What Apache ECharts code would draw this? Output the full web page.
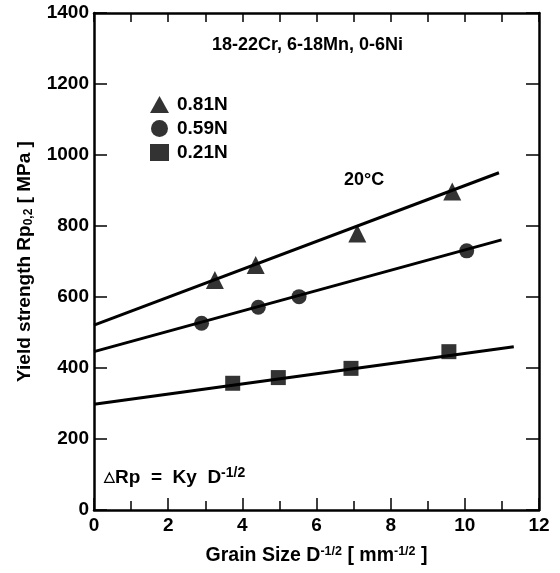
<!DOCTYPE html>
<html>
<head>
<meta charset="utf-8">
<script src="https://cdn.jsdelivr.net/npm/echarts@6/dist/echarts.min.js"></script>
<style>
  html, body { margin: 0; padding: 0; background: #fff; }
  #main { width: 560px; height: 573px; }
</style>
</head>
<body>
<div id="main"></div>
<script>
// measured points (grain size, yield strength)
var n081 = [[3.26, 648], [4.36, 690], [7.10, 779], [9.66, 897]];
var n059 = [[2.90, 526], [4.43, 571], [5.53, 601], [10.05, 730]];
var n021 = [[3.74, 357], [4.97, 373], [6.93, 399], [9.57, 446]];
// fitted lines
var fit081 = [[0, 521], [10.92, 950]];
var fit059 = [[0, 446], [10.99, 761]];
var fit021 = [[0, 298], [11.32, 460]];

var xTicks = [0, 2, 4, 6, 8, 10, 12];
var yTicks = [0, 200, 400, 600, 800, 1000, 1200, 1400];

var myChart = echarts.init(document.getElementById('main'));
var fnt = 'Liberation Sans, Arial, sans-serif';

function fitLine(data) {
  return {
    type: 'line', data: data, symbol: 'none', silent: true,
    lineStyle: { color: '#000', width: 3 }, z: 2
  };
}
function pts(name, data, sym, size) {
  return {
    name: name, type: 'scatter', data: data, symbol: sym, symbolSize: size,
    itemStyle: { color: '#000' }, z: 3
  };
}
var axLine = { show: true, onZero: false, lineStyle: { color: '#000', width: 2.5 } };

option = {
  animation: false,
  textStyle: { fontFamily: fnt },
  grid: { left: 94, right: 21, top: 13, bottom: 63 },
  legend: {
    left: 145, top: 90, orient: 'vertical', itemGap: 5,
    itemWidth: 19, itemHeight: 17,
    textStyle: { fontFamily: fnt, fontSize: 19, fontWeight: 'bold', color: '#000', padding: [0, 0, 0, 3] },
    data: [
      { name: '0.81N', icon: 'triangle' },
      { name: '0.59N', icon: 'circle' },
      { name: '0.21N', icon: 'rect' }
    ]
  },
  xAxis: [{
    type: 'value', min: 0, max: 12, interval: 2,
    axisLine: axLine,
    axisTick: { inside: true, length: 12, lineStyle: { color: '#000', width: 1.5 } },
    minorTick: { show: true, splitNumber: 2, length: 9, lineStyle: { color: '#000', width: 1.5 } },
    splitLine: { show: false },
    axisLabel: { margin: 6, color: '#000', fontSize: 19, fontWeight: 'bold', fontFamily: fnt,
      formatter: function (v) { return xTicks.indexOf(v) >= 0 ? String(v) : ''; } },
    name: '{b|Grain Size D}{s|-1/2}{b| [ mm}{s|-1/2}{b| ]}',
    nameLocation: 'middle', nameGap: 35,
    nameTextStyle: { rich: {
      b: { fontSize: 19.5, fontWeight: 'bold', color: '#000', fontFamily: fnt },
      s: { fontSize: 12.5, fontWeight: 'bold', color: '#000', fontFamily: fnt, verticalAlign: 'top', padding: [0, 0, 9, 0] }
    } }
  }, {
    type: 'value', position: 'top', min: 0, max: 12, interval: 1,
    axisLine: axLine,
    axisTick: { inside: true, length: 9, lineStyle: { color: '#000', width: 1.5 } },
    axisLabel: { show: false }, splitLine: { show: false }
  }],
  yAxis: [{
    type: 'value', min: 0, max: 1400, interval: 200,
    axisLine: axLine,
    axisTick: { inside: true, length: 13, lineStyle: { color: '#000', width: 1.5 } },
    splitLine: { show: false },
    axisLabel: { margin: 5, color: '#000', fontSize: 19, fontWeight: 'bold', fontFamily: fnt,
      formatter: function (v) { return yTicks.indexOf(v) >= 0 ? String(v) : ''; } },
    name: '{b|Yield strength Rp}{s|0,2}{b| [ MPa ]}',
    nameLocation: 'middle', nameGap: 59, nameRotate: 90,
    nameTextStyle: { rich: {
      b: { fontSize: 19, fontWeight: 'bold', color: '#000', fontFamily: fnt },
      s: { fontSize: 12, fontWeight: 'bold', color: '#000', fontFamily: fnt, verticalAlign: 'bottom', padding: [8, 0, 0, 0] }
    } }
  }, {
    type: 'value', position: 'right', min: 0, max: 1400, interval: 200,
    axisLine: axLine,
    axisTick: { show: true, inside: true, length: 13, lineStyle: { color: '#000', width: 1.5 } },
    axisLabel: { show: false }, splitLine: { show: false }
  }],
  graphic: [
    { type: 'text', left: 212, top: 36, style: { text: '18-22Cr, 6-18Mn, 0-6Ni', font: 'bold 18px ' + fnt, fill: '#000' } },
    { type: 'text', left: 344, top: 171, style: { text: '20°C', font: 'bold 18px ' + fnt, fill: '#000' } },
    { type: 'text', left: 104, top: 466, style: {
      text: '{t|△}{b|Rp  =  Ky  D}{s|-1/2}',
      rich: {
        t: { fontSize: 14, fontWeight: 'bold', fill: '#000', fontFamily: fnt },
        b: { fontSize: 19, fontWeight: 'bold', fill: '#000', fontFamily: fnt },
        s: { fontSize: 14, fontWeight: 'bold', fill: '#000', fontFamily: fnt, verticalAlign: 'top', padding: [0, 0, 9, 0] }
      } } }
  ],
  series: [
    fitLine(fit081), fitLine(fit059), fitLine(fit021),
    pts('0.81N', n081, 'triangle', 18),
    pts('0.59N', n059, 'circle', 15),
    pts('0.21N', n021, 'rect', 15)
  ]
};
myChart.setOption(option);
</script>
</body>
</html>
